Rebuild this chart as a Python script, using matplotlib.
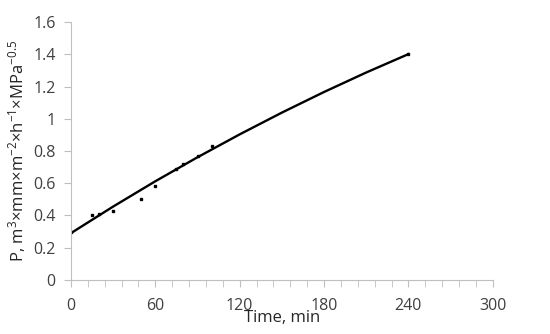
import numpy as np
import matplotlib
matplotlib.use('Agg')
import matplotlib.pyplot as plt
from matplotlib.ticker import MultipleLocator

plt.rcParams['font.family'] = ['Open Sans', 'DejaVu Sans']
plt.rcParams['mathtext.fontset'] = 'custom'
plt.rcParams['mathtext.rm'] = 'Open Sans'
plt.rcParams['mathtext.it'] = 'Open Sans'

# measured points
t_pts = [0, 15, 20, 30, 50, 60, 75, 80, 90, 100, 240]
p_pts = [0.30, 0.40, 0.41, 0.43, 0.50, 0.58, 0.69, 0.72, 0.77, 0.83, 1.40]

# fitted curve
t_fit = [0, 30, 60, 90, 120, 150, 180, 210, 240]
p_fit = [0.29, 0.455, 0.612, 0.761, 0.903, 1.038, 1.166, 1.287, 1.401]

fig = plt.figure(figsize=(5.5, 3.34), dpi=100)
ax = fig.add_axes([0.129, 0.162, 0.767, 0.772])

ax.plot(t_fit, p_fit, color='black', lw=1.7, solid_joinstyle='round')
ax.plot(t_pts, p_pts, 's', color='black', ms=1.6)

ax.set_xlim(0, 300)
ax.set_ylim(0, 1.6)
ax.xaxis.set_major_locator(MultipleLocator(60))
ax.xaxis.set_minor_locator(MultipleLocator(12))
ax.set_yticks(np.arange(0, 1.61, 0.2))
ax.set_yticklabels(['0', '0.2', '0.4', '0.6', '0.8', '1', '1.2', '1.4', '1.6'])

for s in ['top', 'right']:
    ax.spines[s].set_visible(False)
for s in ['left', 'bottom']:
    ax.spines[s].set_color('#bfbfbf')
    ax.spines[s].set_linewidth(0.8)

ax.tick_params(axis='both', which='both', color='#bfbfbf', labelsize=11.5,
               labelcolor='#404040')
ax.tick_params(axis='x', which='major', length=5, pad=8)
ax.tick_params(axis='x', which='minor', length=5)
ax.tick_params(axis='y', length=5, pad=6)

ax.set_xlabel('Time, min', fontsize=12, color='#262626', labelpad=-3)
ax.set_ylabel(r'P, m$^{3}$×mm×m$^{-2}$×h$^{-1}$×MPa$^{-0.5}$', fontsize=12,
              color='#262626', labelpad=4)

fig.savefig('out.png', dpi=100)
